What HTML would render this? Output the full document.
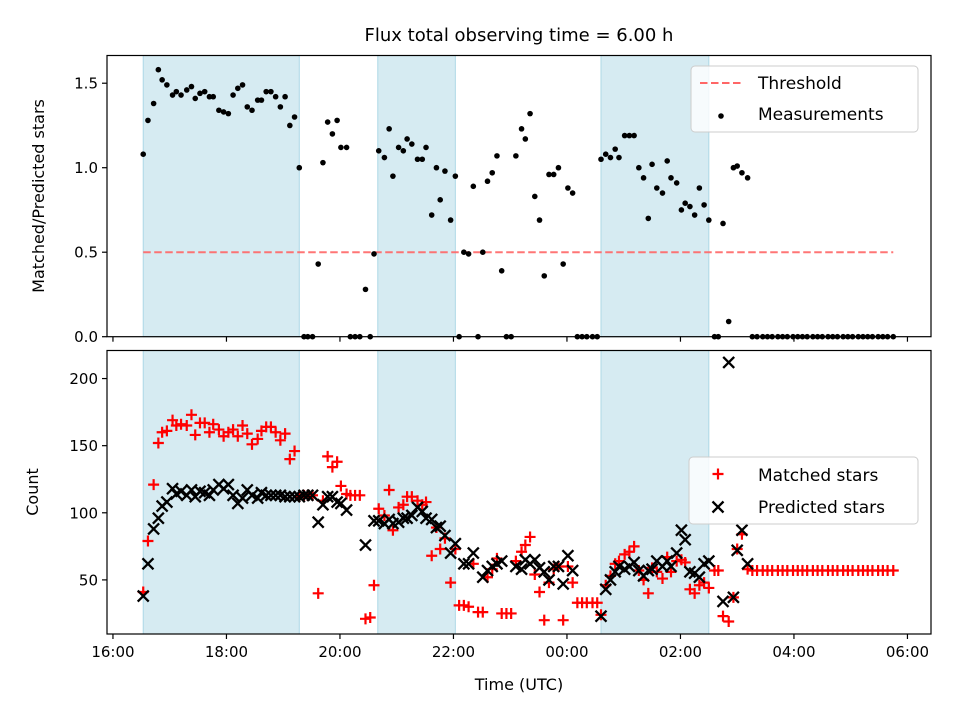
<!DOCTYPE html>
<html><head><meta charset="utf-8"><style>
body{margin:0;background:#fff;position:relative;width:960px;height:720px;}
svg text{font-family:"DejaVu Sans","Liberation Sans",sans-serif;fill:#000;}
</style></head><body>
<svg id="fig" width="960" height="720" viewBox="0 0 960 720" xmlns="http://www.w3.org/2000/svg"></svg>
<script>
const times=[32,37,43,48,52,57,63,67,72,78,83,87,92,97,102,106,112,117,122,127,132,137,142,147,153,157,162,167,172,177,182,187,192,197,
202,206,211,217,222,227,232,237,241,247,251,256,261,267,272,276,281,287,292,296,302,307,311,316,322,327,331,337,342,346,351,357,362,366,371,376,381,386,391,396,401,406,411,416,421,426,432,436,441,446,451,456,461,466,471,476,481,486,491,496,501,507,512,516,521,526,531,535,541,546,551,556,561,566,570,575,581,586,590,596,601,605,610,615,620,625,630,636,640,645,651,656,660,665,671,
676,681,687,692,697,703,708,713,719,724,729,734,740,745,750,756,761,766,772,777,782,788,793,798,803,809,814,819,825];
const ratio=[1.08,1.28,1.38,1.58,1.52,1.49,1.43,1.45,1.43,1.46,1.48,1.41,1.44,1.45,1.42,1.42,1.34,1.33,1.32,1.43,1.47,1.49,1.36,1.34,1.40,1.40,1.45,1.45,1.42,1.36,1.42,1.25,1.30,1.00,
0,0,0,0.43,1.03,1.27,1.20,1.28,1.12,1.12,0,0,0,0.28,0,0.49,1.10,1.06,1.23,0.95,1.12,1.10,1.17,1.14,1.05,1.05,1.12,0.72,1.00,0.81,0.98,0.69,0.95,0,0.50,0.49,0.89,0,0.50,0.92,0.97,1.07,0.39,0,0,1.07,1.23,1.17,1.32,0.83,0.69,0.36,0.96,0.96,1.00,0.43,0.88,0.85,0,0,0,0,0,1.05,1.08,1.06,1.11,1.06,1.19,1.19,1.19,1.00,0.94,0.70,1.02,0.88,0.85,1.04,0.94,0.91,0.75,0.79,0.77,0.72,0.88,0.78,0.69,0,0,0.67,0.09,1.00,1.01,0.97,0.94,
0,0,0,0,0,0,0,0,0,0,0,0,0,0,0,0,0,0,0,0,0,0,0,0,0,0,0,0,0];
const matched=[41,79,121,152,160,161,169,165,166,165,173,158,167,167,160,166,162,157,160,162,157,165,159,151,155,161,164,164,160,154,159,140,146,112,
113,113,113,40,109,142,134,138,120,114,113,113,113,21,22,46,103,98,117,87,104,106,112,112,109,106,108,68,89,73,81,48,73,31,31,30,62,26,26,52,58,66,25,25,25,64,71,76,82,54,41,20,48,58,60,20,60,48,33,33,33,33,33,24,46,53,62,64,69,71,75,57,50,40,59,56,51,67,56,64,65,63,43,40,46,48,44,57,57,23,19,37,73,84,58,
57,57,57,57,57,57,57,57,57,57,57,57,57,57,57,57,57,57,57,57,57,57,57,57,57,57,57,57,57];
const predicted=[38,62,88,96,105,108,118,114,116,113,117,112,116,115,113,117,121,118,121,113,107,111,117,113,111,115,113,113,113,113,112,112,112,112,
113,113,113,93,106,112,112,108,107,102,null,null,null,76,null,94,94,92,95,92,93,96,96,98,104,101,96,95,89,90,83,70,77,null,62,62,70,null,52,57,60,62,64,null,null,60,58,65,62,65,59,56,50,60,60,47,68,57,null,null,null,null,null,23,43,50,56,60,58,60,63,57,53,57,58,64,60,64,60,70,87,80,56,55,52,62,64,null,null,34,212,37,72,87,62];
const shadeStart=[32,280,516];
const shadeEnd=[197,362,630];
const threshold=0.5;
const thrStart=32, thrEnd=825;
const xTickVals=[0,120,240,360,480,600,720,840];
const xTickLabels=["16:00","18:00","20:00","22:00","00:00","02:00","04:00","06:00"];
const topTicks=[0,0.5,1.0,1.5];
const topTickLabels=["0.0","0.5","1.0","1.5"];
const botTicks=[50,100,150,200];

const NS="http://www.w3.org/2000/svg";
const svg=document.getElementById('fig');
function mk(tag,attrs,parent){const e=document.createElementNS(NS,tag);for(const k in attrs)e.setAttribute(k,attrs[k]);(parent||svg).appendChild(e);return e;}
const L=107,R=931;
const xMin=-6.3,xMax=864.9;
function X(m){return L+(m-xMin)/(xMax-xMin)*(R-L);}
const T={top:55.5,bot:336.7,min:0,max:1.664};
const B={top:350.5,bot:634,min:9.7,max:220.9};
function YT(v){return T.bot-(v-T.min)/(T.max-T.min)*(T.bot-T.top);}
function YB(v){return B.bot-(v-B.min)/(B.max-B.min)*(B.bot-B.top);}

function panel(P,name){
  const g=mk('g',{});
  
  
  for(let i=0;i<shadeStart.length;i++){
    const r=mk('rect',{x:X(shadeStart[i]),y:P.top,width:X(shadeEnd[i])-X(shadeStart[i]),height:P.bot-P.top,fill:'#add8e6','fill-opacity':0.5,stroke:'#add8e6','stroke-width':1},g);
    
    
  }
  return g;
}
function frame(P,yt,ylabels,Yf,name){
  const g=mk('g',{});
  
  
  mk('rect',{x:L,y:P.top,width:R-L,height:P.bot-P.top,fill:'none',stroke:'#000','stroke-width':1.2},g);
  xTickVals.forEach(v=>{mk('line',{x1:X(v),x2:X(v),y1:P.bot,y2:P.bot+5,stroke:'#000','stroke-width':1.2},g);});
  yt.forEach((v,i)=>{
    const y=Yf(v);
    mk('line',{x1:L-5,x2:L,y1:y,y2:y,stroke:'#000','stroke-width':1.2},g);
    const t=mk('text',{x:L-9,y:y+5.5,'text-anchor':'end','font-size':15},g);
    t.textContent=ylabels[i];
    
    
  });
}

const gt=panel(T,'ratio-panel');
const thr=mk('line',{x1:X(thrStart),x2:X(thrEnd),y1:YT(threshold),y2:YT(threshold),stroke:'#ff6666','stroke-width':2,'stroke-dasharray':'7.5,3.5','stroke-opacity':0.9},gt);


for(let i=0;i<times.length&&i<ratio.length;i++){
  const c=mk('circle',{cx:X(times[i]),cy:YT(ratio[i]),r:2.8,fill:'#000'},gt);
  
  
}
frame(T,topTicks,topTickLabels,YT,'ratio-axes');

const gb=panel(B,'count-panel');
for(let i=0;i<times.length&&i<matched.length;i++){
  if(matched[i]==null)continue;
  const x=X(times[i]),y=YB(matched[i]);
  const p=mk('path',{d:`M${x-5.5},${y}H${x+5.5}M${x},${y-5.5}V${y+5.5}`,stroke:'#ff0000','stroke-width':2.2,fill:'none'},gb);
  
  
}
for(let i=0;i<times.length&&i<predicted.length;i++){
  if(predicted[i]==null)continue;
  const x=X(times[i]),y=YB(predicted[i]);
  const p=mk('path',{d:`M${x-5.5},${y-5.5}L${x+5.5},${y+5.5}M${x-5.5},${y+5.5}L${x+5.5},${y-5.5}`,stroke:'#000','stroke-width':2.3,fill:'none'},gb);
  
  
}
frame(B,botTicks,botTicks.map(String),YB,'count-axes');

xTickVals.forEach((v,i)=>{
  const t=mk('text',{x:X(v),y:B.bot+23,'text-anchor':'middle','font-size':15});
  t.textContent=xTickLabels[i];
  
  
});
</script>
<svg width="960" height="720" style="position:absolute;left:0;top:0" xmlns="http://www.w3.org/2000/svg">
<text x="519" y="41" text-anchor="middle" font-size="18">Flux total observing time = 6.00 h</text>
<text transform="translate(44,196) rotate(-90)" text-anchor="middle" font-size="16">Matched/Predicted stars</text>
<text transform="translate(38,492) rotate(-90)" text-anchor="middle" font-size="16">Count</text>
<text x="519" y="690" text-anchor="middle" font-size="16">Time (UTC)</text>
<g>
<rect x="691" y="66" width="227" height="66" rx="4" fill="#fff" fill-opacity="0.8" stroke="#ccc"/>
<line x1="700" y1="83" x2="742" y2="83" stroke="#ff6666" stroke-width="2" stroke-dasharray="7.5,3.5"/>
<text x="758" y="89" font-size="17">Threshold</text>
<circle cx="721" cy="116" r="2.8" fill="#000"/>
<text x="758" y="120" font-size="17">Measurements</text>
</g>
<g>
<rect x="689" y="457" width="229" height="67" rx="4" fill="#fff" fill-opacity="0.8" stroke="#ccc"/>
<path d="M712.5,474H723.5M718,468.5V479.5" stroke="#f00" stroke-width="2.2"/>
<text x="758" y="481" font-size="17">Matched stars</text>
<path d="M712.5,501.5L723.5,512.5M712.5,512.5L723.5,501.5" stroke="#000" stroke-width="2.3"/>
<text x="758" y="513" font-size="17">Predicted stars</text>
</g>
</svg>
</body></html>
